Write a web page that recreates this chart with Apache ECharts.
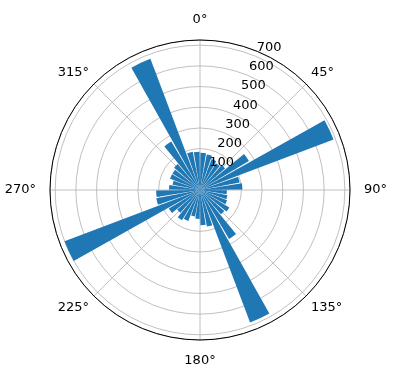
<html>
<head>
    <meta charset="utf-8">
    <title>Polar bars</title>
    <script src="https://cdn.jsdelivr.net/npm/echarts@6/dist/echarts.min.js"></script>
</head>
<body style="margin:0">
    <div id="main" style="width:396px;height:380px"></div>
    <script>
        // 36 direction bins, 10 degrees each (bar centres at 5, 15, ... 355)
        var directions = [];
        for (var i = 0; i < 36; i++) directions.push((i * 10 + 5) + '°');

        var counts = [180, 175, 160, 150, 160, 275, 690, 195, 205,
                      130, 135, 140, 165, 155, 275, 685, 180, 170,
                      140, 130, 160, 170, 145, 175, 700, 215, 212,
                      150, 135, 155, 155, 165, 272, 678, 188, 185];

        var angleTicks = [0, 45, 90, 135, 180, 225, 270, 315];
        var angleLabels = ['0°', '45°', '90°', '135°', '180°', '225°', '270°', '315°'];
        var radiusTicks = [100, 200, 300, 400, 500, 600, 700];
        var radiusLabels = ['100', '200', '300', '400', '500', '600', '700'];
        var rMax = 725;

        var myChart = echarts.init(document.getElementById('main'));
        var grey = '#b0b0b0';
        var font = 'DejaVu Sans';

        // cardinal labels (0, 90, 180, 270) and diagonal labels sit at different gaps
        function angleFormatter(diagonal) {
            return function (v) {
                var k = angleTicks.indexOf(v);
                if (k < 0 || (v % 90 !== 0) !== diagonal) return '';
                return angleLabels[k];
            };
        }

        option = {
            animation: false,
            polar: [
                {center: [200, 190], radius: 150},
                {center: [200, 190], radius: 150},
                // radius labels: same scale, shifted a little off the 22.5° line like matplotlib
                {center: [213.8, 181.6], radius: 150},
                {center: [200, 190], radius: 150}
            ],
            angleAxis: [
                {
                    polarIndex: 0,
                    type: 'value', min: 0, max: 360, interval: 45,
                    startAngle: 90, clockwise: true,
                    axisLine: {lineStyle: {color: '#000', width: 1}},
                    axisTick: {show: false},
                    axisLabel: {
                        margin: 14, color: '#000', fontSize: 13, fontFamily: font,
                        formatter: angleFormatter(false)
                    },
                    splitLine: {lineStyle: {color: grey, width: 0.8}},
                    z: 1
                },
                {
                    polarIndex: 1,
                    type: 'category', data: directions,
                    startAngle: 90, clockwise: true,
                    axisLine: {show: false}, axisTick: {show: false},
                    axisLabel: {show: false}, splitLine: {show: false}
                },
                {
                    polarIndex: 2,
                    type: 'value', min: 0, max: 360,
                    startAngle: 67.5, clockwise: true, show: false
                },
                {
                    polarIndex: 3,
                    type: 'value', min: 0, max: 360, interval: 45,
                    startAngle: 90, clockwise: true,
                    axisLine: {show: false}, axisTick: {show: false},
                    splitLine: {show: false},
                    axisLabel: {
                        margin: 7, color: '#000', fontSize: 13, fontFamily: font,
                        formatter: angleFormatter(true)
                    }
                }
            ],
            radiusAxis: [
                {
                    polarIndex: 0,
                    type: 'value', min: 0, max: rMax, interval: 100,
                    axisLine: {show: false}, axisTick: {show: false},
                    axisLabel: {show: false},
                    splitLine: {lineStyle: {color: grey, width: 0.8}}
                },
                {
                    polarIndex: 1,
                    type: 'value', min: 0, max: rMax,
                    axisLine: {show: false}, axisTick: {show: false},
                    axisLabel: {show: false}, splitLine: {show: false}
                },
                {
                    polarIndex: 2,
                    type: 'value', min: 0, max: rMax, interval: 100,
                    axisLine: {show: false}, axisTick: {show: false},
                    splitLine: {show: false},
                    axisLabel: {
                        margin: 0, color: '#000', fontSize: 13, fontFamily: font,
                        align: 'center', verticalAlign: 'middle',
                        formatter: function (v) {
                            var k = radiusTicks.indexOf(v);
                            return k < 0 ? '' : radiusLabels[k];
                        }
                    },
                    z: 5
                },
                {
                    polarIndex: 3,
                    type: 'value', min: 0, max: rMax, show: false
                }
            ],
            series: [{
                type: 'bar',
                coordinateSystem: 'polar',
                polarIndex: 1,
                data: counts,
                barCategoryGap: '14%',
                itemStyle: {color: '#1f77b4'},
                z: 3
            }]
        };
        myChart.setOption(option);
    </script>
</body>
</html>
